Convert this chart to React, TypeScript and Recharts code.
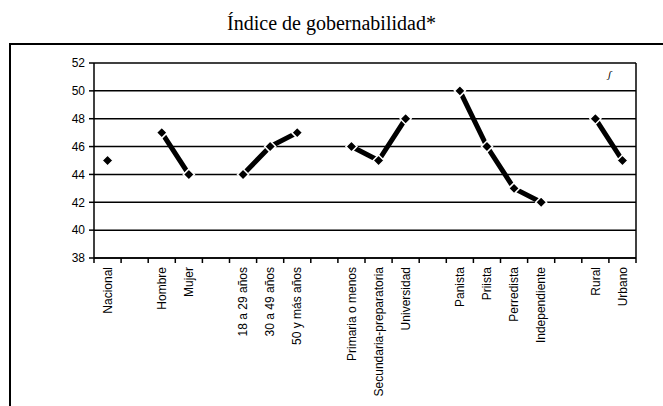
import React from "react";
import { LineChart, Line, XAxis, YAxis, CartesianGrid } from "recharts";

const categories: string[] = [
  "Nacional", "", "Hombre", "Mujer", "", "18 a 29 años", "30 a 49 años", "50 y más años", "",
  "Primaria o menos", "Secundaria-preparatoria", "Universidad", "",
  "Panista", "Priista", "Perredista", "Independiente", "", "Rural", "Urbano",
];
const values: (number | null)[] = [
  45, null, 47, 44, null, 44, 46, 47, null,
  46, 45, 48, null,
  50, 46, 43, 42, null, 48, 45,
];
const yTicks: number[] = [38, 40, 42, 44, 46, 48, 50, 52];
const title = "Índice de gobernabilidad*";

const data = categories.map((name, i) => ({ name, v: values[i] }));

const FONT = "'Liberation Sans', Arial, sans-serif";
const HALF = 13.55;

function XTick(props: any) {
  const { x, y, payload, index } = props;
  const last = index === categories.length - 1;
  return (
    <g>
      <line x1={x - HALF} x2={x - HALF} y1={y} y2={y + 5} stroke="#000" strokeWidth={1.5} />
      {last && <line x1={x + HALF} x2={x + HALF} y1={y} y2={y + 5} stroke="#000" strokeWidth={1.5} />}
      <text
        transform={`translate(${x},${y + 9}) rotate(-90)`}
        textAnchor="end"
        dy="0.35em"
        fontSize={12}
        fontFamily={FONT}
        fill="#000"
      >
        {payload.value}
      </text>
    </g>
  );
}

function DiamondDot(props: any) {
  const { cx, cy, value, index } = props;
  if (value == null || cx == null || cy == null) return <g key={`d${index}`} />;
  const r = 5.5;
  return (
    <polygon
      key={`d${index}`}
      points={`${cx},${cy - r} ${cx + r},${cy} ${cx},${cy + r} ${cx - r},${cy}`}
      fill="#000"
      stroke="#fff"
      strokeWidth={1.5}
    />
  );
}

export default function App() {
  return (
    <div style={{ position: "absolute", left: 0, top: 0, width: 663, height: 406, overflow: "hidden", background: "#fff" }}>
      <div
        style={{
          position: "absolute", left: 0, top: 11, width: 663, height: 24, lineHeight: "24px",
          textAlign: "center", fontFamily: "'Liberation Serif', 'Times New Roman', serif", fontSize: 20, color: "#000",
        }}
      >
        {title}
      </div>
      <div
        style={{
          position: "absolute", left: 9, top: 43, width: 700, height: 400,
          borderTop: "2px solid #000", borderLeft: "2px solid #000",
        }}
      />
      <div
        style={{ position: "absolute", left: 608, top: 68, fontSize: 11, fontStyle: "italic", fontFamily: "'Liberation Serif', serif", color: "#000" }}
      >
        ʃ
      </div>
      <div style={{ position: "absolute", left: 0, top: 0 }}>
        <LineChart width={663} height={406} data={data} margin={{ top: 63, right: 27, left: 0, bottom: 0 }}>
          <CartesianGrid
            stroke="#000"
            strokeWidth={1.5}
            horizontal={true}
            vertical={true}
            verticalCoordinatesGenerator={({ offset }: any) => [offset.left + offset.width]}
          />
          <XAxis
            dataKey="name"
            type="category"
            interval={0}
            height={148}
            padding={{ left: HALF, right: HALF }}
            tickLine={false}
            tickSize={0}
            tickMargin={0}
            axisLine={{ stroke: "#000", strokeWidth: 1.5 }}
            tick={<XTick />}
          />
          <YAxis
            domain={[38, 52]}
            ticks={yTicks}
            width={94}
            tickSize={5}
            tickMargin={4}
            axisLine={{ stroke: "#000", strokeWidth: 1.5 }}
            tickLine={{ stroke: "#000", strokeWidth: 1.5 }}
            tick={{ fill: "#000", fontSize: 12, fontFamily: FONT }}
          />
          <Line
            type="linear"
            dataKey="v"
            stroke="#000"
            strokeWidth={5}
            connectNulls={false}
            dot={DiamondDot}
            activeDot={false}
            isAnimationActive={false}
          />
        </LineChart>
      </div>
    </div>
  );
}
